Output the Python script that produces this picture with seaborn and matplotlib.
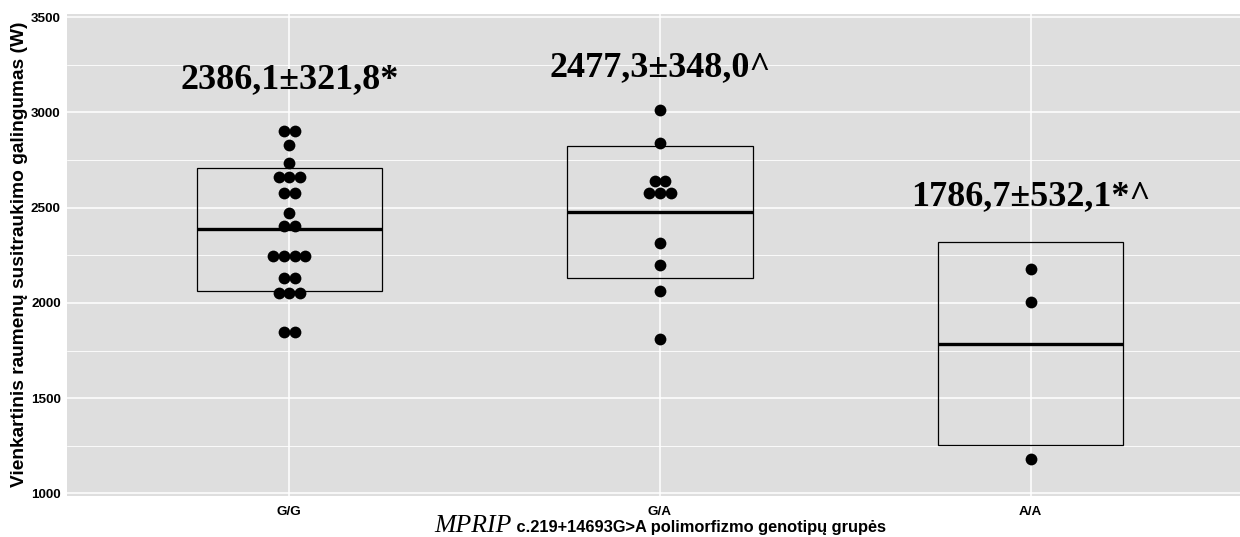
import numpy as np
import pandas as pd
import matplotlib
matplotlib.use("Agg")
import matplotlib.pyplot as plt
import seaborn as sns
from matplotlib.ticker import MultipleLocator

# Genotype groups and single-contraction muscle power (W) of each participant
genotypes = ["G/G", "G/A", "A/A"]
gg_power = [2905, 2905, 2827, 2733, 2660, 2660, 2660, 2578, 2578, 2470, 2405, 2405,
            2248, 2248, 2248, 2248, 2133, 2133, 2050, 2050, 2050, 1848, 1848]
ga_power = [3014, 2842, 2642, 2642, 2575, 2575, 2575, 2315, 2198, 2063, 1812]
aa_power = [2176, 2004, 1180]

# Group summaries (mean ± SD) and significance marks
group_mean = [2386.1, 2477.3, 1786.7]
group_sd = [321.8, 348.0, 532.1]
group_mark = ["*", "^", "*^"]

y_ticks = [1000, 1500, 2000, 2500, 3000, 3500]

sns.set_theme(style="darkgrid")
plt.rcParams["font.family"] = ["Liberation Sans", "DejaVu Sans"]
plt.rcParams["text.color"] = "black"
plt.rcParams["axes.labelcolor"] = "black"

values_by_group = [gg_power, ga_power, aa_power]
df = pd.DataFrame({
    "genotype": np.repeat(genotypes, [len(v) for v in values_by_group]),
    "power": np.concatenate(values_by_group),
})


def stack_offsets(values, step):
    """Centre equal values side by side, like a binned dot plot."""
    vals = np.asarray(values)
    off = np.zeros(len(vals))
    for v in np.unique(vals):
        idx = np.where(vals == v)[0]
        off[idx] = (np.arange(len(idx)) - (len(idx) - 1) / 2) * step
    return off


dot_step = 0.029
df["pos"] = df["genotype"].map({g: i for i, g in enumerate(genotypes)}).astype(float)
for g in genotypes:
    m = df["genotype"] == g
    df.loc[m, "pos"] += stack_offsets(df.loc[m, "power"], dot_step)

fig = plt.figure(figsize=(12.4, 5.37), dpi=100)
ax = fig.add_axes([67 / 1240, 41 / 537, (1240 - 67) / 1240, (496 - 14) / 537])
ax.set_facecolor("#DEDEDE")
for s in ax.spines.values():
    s.set_visible(False)

# mean ± SD boxes
x_idx = np.arange(len(genotypes))
ax.bar(x_idx, [2 * s for s in group_sd], bottom=[m - s for m, s in zip(group_mean, group_sd)],
       width=0.5, fill=False, edgecolor="black", linewidth=0.9, zorder=2)

sns.scatterplot(data=df, x="pos", y="power", color="black", s=72, linewidth=0,
                ax=ax, zorder=3, legend=False)

ax.hlines(group_mean, x_idx - 0.25, x_idx + 0.25, color="black", linewidth=2.4, zorder=4)

# mean ± SD labels above each group
label_y = [3171, 3234, 2556]
for i, (m, s, mk) in enumerate(zip(group_mean, group_sd, group_mark)):
    txt = f"{m:.1f}".replace(".", ",") + "±" + f"{s:.1f}".replace(".", ",") + mk
    ax.text(i, label_y[i], txt, ha="center", va="center", fontsize=26,
            fontweight="bold", color="black",
            family=["Liberation Serif", "DejaVu Serif"], zorder=5)

ax.set_xlim(-0.6, 2.565)
ax.set_ylim(986, 3517)
ax.set_xticks(x_idx, genotypes)
ax.set_yticks(y_ticks)
ax.yaxis.set_minor_locator(MultipleLocator(250))
ax.grid(which="major", color="white", linewidth=1.1)
ax.grid(which="minor", axis="y", color="white", linewidth=0.6)
ax.set_axisbelow(True)
ax.tick_params(axis="both", which="major", length=3, width=0.8, color="#444444",
               labelsize=9.7, labelcolor="black")
ax.tick_params(axis="y", which="major", pad=1.5)
ax.tick_params(axis="x", which="major", pad=4.5)
ax.tick_params(axis="both", which="minor", length=0)
for lab in ax.get_xticklabels() + ax.get_yticklabels():
    lab.set_fontweight("bold")
ax.set_xlabel("")
ax.set_ylabel("")

fig.text(20 / 1240, 283 / 537, "Vienkartinis raumenų susitraukimo galingumas (W)",
         rotation=90, ha="center", va="center", fontsize=13.8, fontweight="bold",
         color="black")

# x-axis title: italic gene name followed by bold description, centred under G/A
fig.canvas.draw()
renderer = fig.canvas.get_renderer()
t1 = fig.text(0, 5 / 537, "MPRIP", ha="left", va="baseline", fontsize=18.5,
              style="italic", color="black",
              family=["Liberation Serif", "DejaVu Serif"])
t2 = fig.text(0, 5 / 537, " c.219+14693G>A polimorfizmo genotipų grupės", ha="left",
              va="baseline", fontsize=11.8, fontweight="bold", color="black")
w1 = t1.get_window_extent(renderer).width
w2 = t2.get_window_extent(renderer).width
xc = ax.transData.transform((1, 0))[0]
x0 = xc - (w1 + w2) / 2
t1.set_x(x0 / 1240)
t2.set_x((x0 + w1) / 1240)

fig.savefig("out.png", dpi=100, facecolor="white")
